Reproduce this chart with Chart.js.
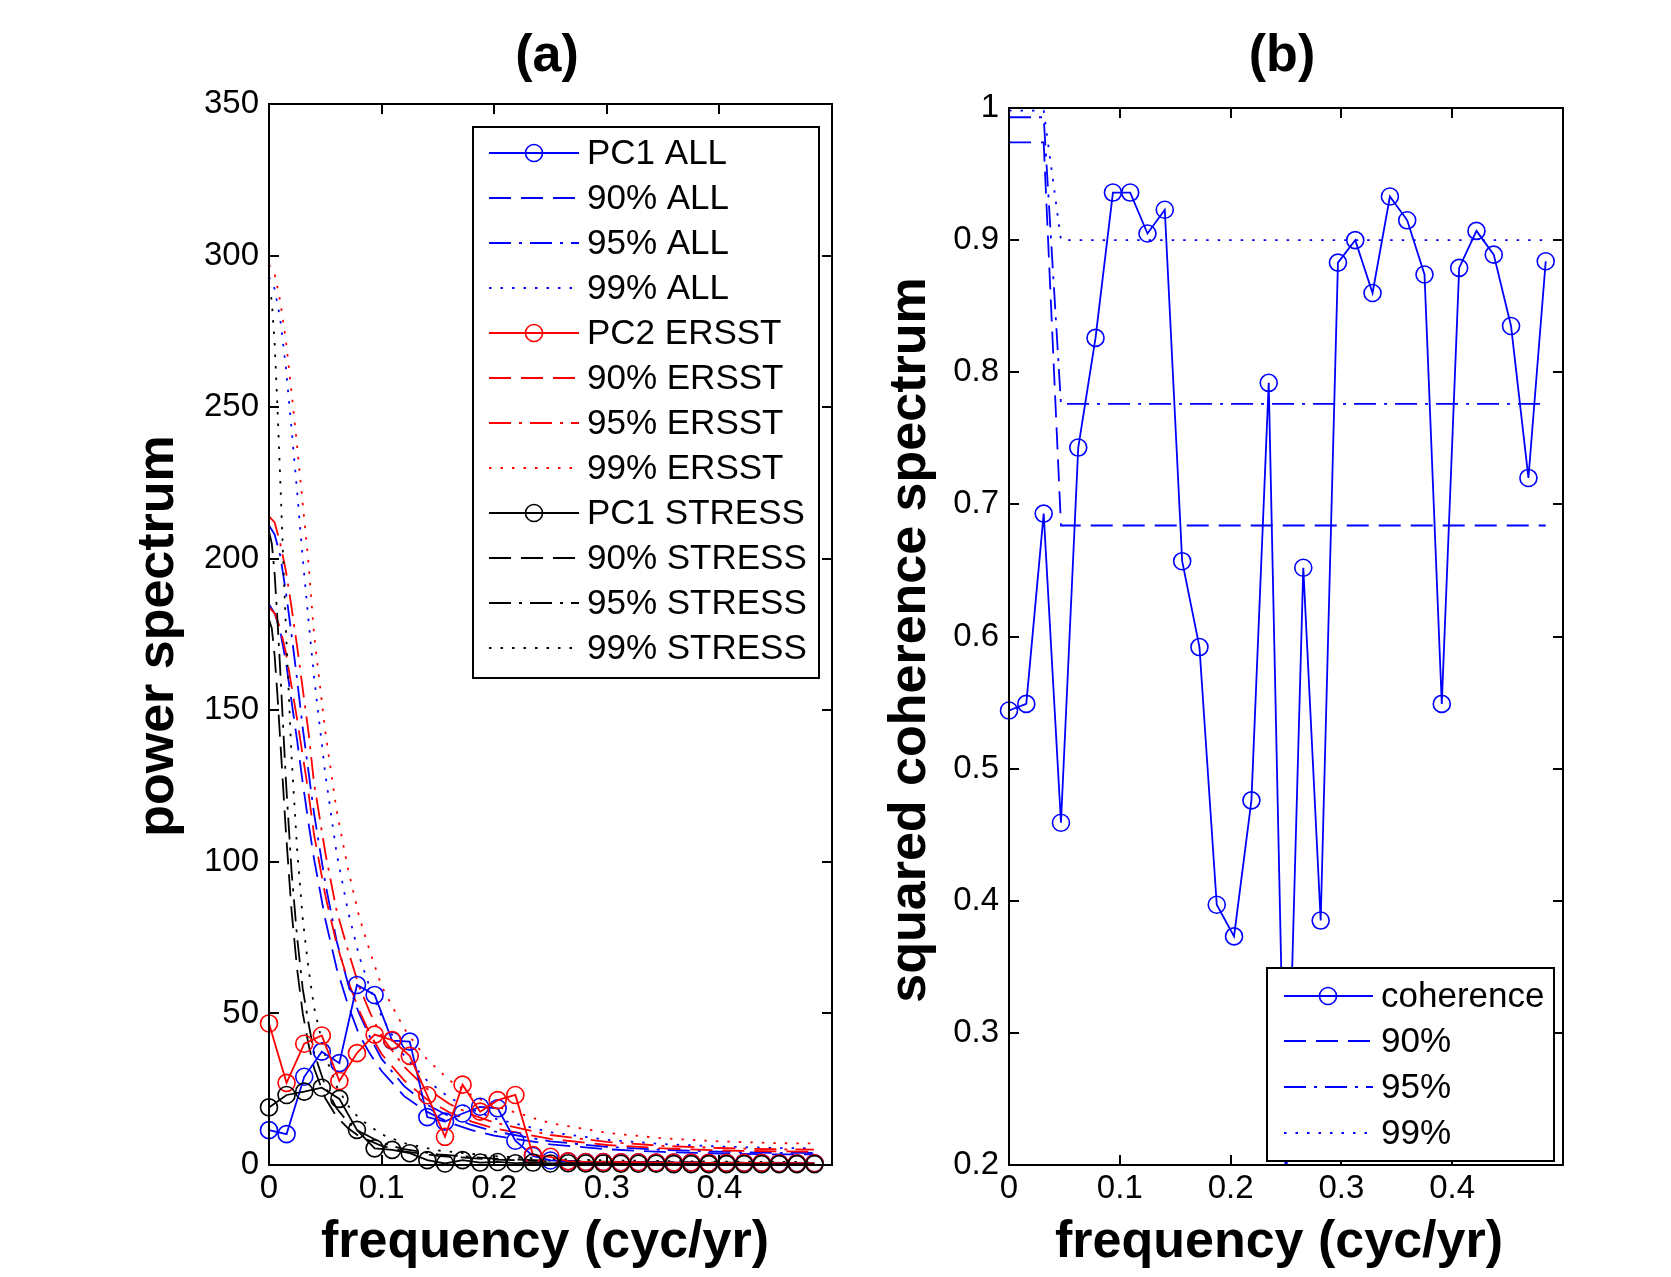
<!DOCTYPE html>
<html>
<head>
<meta charset="utf-8">
<script src="https://cdn.jsdelivr.net/npm/chart.js@4.4.1/dist/chart.umd.min.js"></script>
<style>
  html, body { margin: 0; padding: 0; background: #fff; }
  #wrap { position: relative; width: 1671px; height: 1277px; overflow: hidden; background: #fff; }
  canvas { position: absolute; top: 0; }
  #chartA { left: 0; }
  #chartB { left: 880px; }
</style>
</head>
<body>
<div id="wrap">
  <canvas id="chartA" width="880" height="1277"></canvas>
  <canvas id="chartB" width="791" height="1277"></canvas>
</div>
<script>
// frequencies of the spectral estimates (cyc/yr)
const freq = [0, 0.0156, 0.0313, 0.0469, 0.0625, 0.0781, 0.0938, 0.1094, 0.125, 0.1406, 0.1563, 0.1719,
  0.1875, 0.2031, 0.2188, 0.2344, 0.25, 0.2656, 0.2813, 0.2969, 0.3125, 0.3281, 0.3438, 0.3594,
  0.375, 0.3906, 0.4063, 0.4219, 0.4375, 0.4531, 0.4688, 0.4844];

// panel (a) power spectra
const pc1All = [11.5, 10.2, 29.1, 37.4, 33.6, 59.4, 56.1, 41.0, 40.7, 15.8, 14.3, 17.0, 19.2, 18.7, 8.0, 3.0,
  1.5, 1.2, 1.0, 1.0, 0.9, 0.9, 0.8, 0.8, 0.8, 0.7, 0.7, 0.7, 0.7, 0.6, 0.6, 0.6];
const pc2Ersst = [46.7, 27.1, 40.0, 42.7, 27.7, 36.9, 43.0, 41.2, 36.0, 23.0, 9.3, 26.5, 17.6, 21.4, 23.1, 3.3,
  2.7, 1.2, 1.0, 1.0, 0.9, 0.9, 0.8, 0.8, 0.8, 0.7, 0.7, 0.7, 0.7, 0.6, 0.6, 0.6];
const pc1Stress = [19.0, 23.1, 24.2, 25.5, 21.8, 11.6, 5.5, 5.0, 3.9, 1.6, 0.5, 1.6, 0.8, 1.0, 0.6, 0.8,
  0.5, 0.6, 0.5, 0.5, 0.4, 0.4, 0.4, 0.3, 0.3, 0.3, 0.3, 0.3, 0.3, 0.3, 0.3, 0.3];

// significance levels, ALL and ERSST
const freqLevel = [0, 0.005, 0.01, 0.015, 0.02, 0.025, 0.03, 0.035, 0.04, 0.05, 0.06, 0.07, 0.08, 0.09, 0.1,
  0.12, 0.14, 0.16, 0.18, 0.2, 0.25, 0.3, 0.35, 0.4, 0.45, 0.484];
const all90 = [185, 182, 176, 166, 153, 140, 126, 113, 101, 81, 65, 53, 43, 36.5, 31, 22.7, 17.6, 14.0, 11.5, 9.7, 6.8, 5.2, 4.3, 3.8, 3.5, 3.5];
const all95 = [211, 208, 201, 189, 175, 160, 144, 130, 116, 93, 74, 60, 50, 42, 35, 26, 20, 16.1, 13.2, 11.1, 7.8, 6.0, 5.0, 4.4, 4.0, 4.0];
const all99 = [293, 289, 279, 263, 243, 222, 200, 180, 161, 129, 103, 84, 69, 58, 49, 36, 28, 22.3, 18.3, 15.4, 10.8, 8.3, 6.9, 6.1, 5.6, 5.5];
const ersst90 = [184, 182, 177, 169, 158, 147, 135, 123, 109, 89, 73, 61, 51, 43, 36.6, 27.9, 21.7, 17.4, 14.3, 12.1, 8.6, 6.6, 5.5, 4.8, 4.5, 4.4];
const ersst95 = [214, 212, 205, 196, 184, 171, 157, 143, 126, 103, 84, 71, 59, 50, 42.5, 32.4, 25.2, 20.2, 16.6, 14.0, 9.9, 7.6, 6.3, 5.6, 5.2, 5.1];
const ersst99 = [297, 294, 285, 272, 255, 237, 218, 199, 175, 143, 117, 98, 82, 70, 59, 45, 35, 28, 23, 19.5, 13.8, 10.6, 8.8, 7.8, 7.2, 7.1];

// significance levels, STRESS
const freqLevelStress = [0, 0.0025, 0.005, 0.0075, 0.01, 0.0125, 0.015, 0.02, 0.025, 0.03, 0.035, 0.04, 0.05,
  0.06, 0.07, 0.08, 0.1, 0.12, 0.15, 0.2, 0.25, 0.3, 0.4, 0.484];
const stress90 = [180, 177, 168, 155, 140, 125, 110, 84, 64.5, 50, 40, 32, 22, 16, 12.2, 9.5, 6.3, 4.5, 3.0, 1.8, 1.2, 0.9, 0.7, 0.6];
const stress95 = [209, 205, 195, 180, 163, 145, 127, 97, 75, 58, 47, 37, 26, 18.7, 14.2, 11.1, 7.3, 5.2, 3.5, 2.1, 1.4, 1.1, 0.8, 0.7];
const stress99 = [290, 285, 271, 250, 226, 201, 177, 135, 104, 81, 65, 52, 36, 26, 19.7, 15.4, 10.1, 7.2, 4.8, 2.9, 2.0, 1.5, 1.1, 1.0];

// panel (b) squared coherence and its levels
const coherence = [0.544, 0.549, 0.693, 0.459, 0.743, 0.826, 0.936, 0.936, 0.905, 0.923, 0.657, 0.592,
  0.397, 0.373, 0.476, 0.792, 0.18, 0.652, 0.385, 0.883, 0.900, 0.860, 0.933, 0.915,
  0.874, 0.549, 0.879, 0.907, 0.889, 0.835, 0.720, 0.884];
const coh90 = [0.974, 0.974, 0.974, 0.684, 0.684, 0.684, 0.684, 0.684, 0.684, 0.684, 0.684, 0.684, 0.684, 0.684,
  0.684, 0.684, 0.684, 0.684, 0.684, 0.684, 0.684, 0.684, 0.684, 0.684, 0.684, 0.684, 0.684, 0.684, 0.684, 0.684, 0.684, 0.684];
const coh95 = [0.993, 0.993, 0.993, 0.776, 0.776, 0.776, 0.776, 0.776, 0.776, 0.776, 0.776, 0.776, 0.776, 0.776,
  0.776, 0.776, 0.776, 0.776, 0.776, 0.776, 0.776, 0.776, 0.776, 0.776, 0.776, 0.776, 0.776, 0.776, 0.776, 0.776, 0.776, 0.776];
const coh99 = [0.998, 0.998, 0.998, 0.900, 0.900, 0.900, 0.900, 0.900, 0.900, 0.900, 0.900, 0.900, 0.900, 0.900,
  0.900, 0.900, 0.900, 0.900, 0.900, 0.900, 0.900, 0.900, 0.900, 0.900, 0.900, 0.900, 0.900, 0.900, 0.900, 0.900, 0.900, 0.900];

const xTicks = [0, 0.1, 0.2, 0.3, 0.4];

const FONT = '"Liberation Sans", Arial, Helvetica, sans-serif';
const BLUE = '#0000ff';
const RED = '#ff0000';
const BLACK = '#000000';
const DASH = [22, 10];
const DASHDOT = [22, 8, 3, 8];
const DOT = [2.5, 9];

function pts(xs, ys) {
  return xs.map((x, i) => ({ x, y: ys[i] }));
}

function dataLine(label, ys, color, order) {
  return {
    label, data: pts(freq, ys), borderColor: color, borderWidth: 1.8,
    pointRadius: 8.5, pointBorderWidth: 1.6, pointBorderColor: color,
    pointBackgroundColor: 'rgba(0,0,0,0)', order
  };
}

function levelLine(label, xs, ys, color, dash, order) {
  return {
    label, data: pts(xs, ys), borderColor: color, borderWidth: 1.8,
    borderDash: dash, pointRadius: 0, order
  };
}

// axes box, inward ticks, titles and legend, MATLAB style
const decor = {
  id: 'decor',
  afterDatasetsDraw(chart, args, o) {
    const ctx = chart.ctx;
    const a = chart.chartArea;
    const sx = chart.scales.x, sy = chart.scales.y;
    ctx.save();
    ctx.strokeStyle = BLACK;
    ctx.lineWidth = 2;
    ctx.setLineDash([]);
    ctx.beginPath();
    sx.ticks.forEach(t => {
      const px = Math.round(sx.getPixelForValue(t.value));
      ctx.moveTo(px, a.bottom); ctx.lineTo(px, a.bottom - 10);
      ctx.moveTo(px, a.top); ctx.lineTo(px, a.top + 10);
    });
    sy.ticks.forEach(t => {
      const py = Math.round(sy.getPixelForValue(t.value));
      ctx.moveTo(a.left, py); ctx.lineTo(a.left + 10, py);
      ctx.moveTo(a.right, py); ctx.lineTo(a.right - 10, py);
    });
    ctx.stroke();
    ctx.strokeRect(a.left, a.top, a.right - a.left, a.bottom - a.top);

    // legend
    const L = o.legend;
    ctx.fillStyle = '#fff';
    ctx.fillRect(L.box[0], L.box[1], L.box[2] - L.box[0], L.box[3] - L.box[1]);
    ctx.strokeRect(L.box[0], L.box[1], L.box[2] - L.box[0], L.box[3] - L.box[1]);
    ctx.font = '35px ' + FONT;
    ctx.textAlign = 'left';
    ctx.textBaseline = 'middle';
    L.items.forEach((it, i) => {
      const y = L.rows[i];
      ctx.strokeStyle = it.color;
      ctx.lineWidth = 1.8;
      ctx.setLineDash(it.dash || []);
      ctx.beginPath();
      ctx.moveTo(L.line[0], y); ctx.lineTo(L.line[1], y);
      ctx.stroke();
      ctx.setLineDash([]);
      if (it.marker) {
        ctx.lineWidth = 1.6;
        ctx.beginPath();
        ctx.arc(L.marker, y, 8.5, 0, Math.PI * 2);
        ctx.stroke();
      }
      ctx.fillStyle = BLACK;
      ctx.fillText(it.text, L.text, y + 1);
    });

    // titles
    ctx.fillStyle = BLACK;
    ctx.font = 'bold 52px ' + FONT;
    ctx.textAlign = 'center';
    ctx.textBaseline = 'alphabetic';
    ctx.fillText(o.title, o.titleX, 71);
    ctx.fillText('frequency (cyc/yr)', o.xTitleX, 1257);
    ctx.translate(o.yTitleX, o.yTitleY);
    ctx.rotate(-Math.PI / 2);
    ctx.fillText(o.yTitle, 0, 0);
    ctx.restore();
  }
};

function scalesFor(yMin, yMax, yStep, yWidth) {
  const tickFont = { family: FONT, size: 33 };
  return {
    x: {
      type: 'linear', min: 0, max: 0.5,
      grid: { display: false, drawTicks: false }, border: { display: false },
      afterBuildTicks: s => { s.ticks = xTicks.map(v => ({ value: v })); },
      afterFit: s => { s.height = 112; },
      ticks: { color: BLACK, font: tickFont, padding: 4, maxRotation: 0,
        callback: v => String(+v.toFixed(1)) }
    },
    y: {
      min: yMin, max: yMax,
      grid: { display: false, drawTicks: false }, border: { display: false },
      afterFit: s => { s.width = yWidth; },
      ticks: { color: BLACK, font: tickFont, padding: 10, stepSize: yStep,
        callback: v => String(+v.toFixed(1)) }
    }
  };
}

const baseOpts = {
  responsive: false, animation: false, events: [],
  elements: { line: { tension: 0 } },
  plugins: { legend: { display: false }, tooltip: { enabled: false } }
};

new Chart(document.getElementById('chartA'), {
  type: 'line',
  data: {
    datasets: [
      levelLine('90% ALL', freqLevel, all90, BLUE, DASH, 12),
      levelLine('95% ALL', freqLevel, all95, BLUE, DASHDOT, 11),
      levelLine('99% ALL', freqLevel, all99, BLUE, DOT, 10),
      levelLine('90% ERSST', freqLevel, ersst90, RED, DASH, 9),
      levelLine('95% ERSST', freqLevel, ersst95, RED, DASHDOT, 8),
      levelLine('99% ERSST', freqLevel, ersst99, RED, DOT, 7),
      levelLine('90% STRESS', freqLevelStress, stress90, BLACK, DASH, 6),
      levelLine('95% STRESS', freqLevelStress, stress95, BLACK, DASHDOT, 5),
      levelLine('99% STRESS', freqLevelStress, stress99, BLACK, DOT, 4),
      dataLine('PC1 ALL', pc1All, BLUE, 3),
      dataLine('PC2 ERSST', pc2Ersst, RED, 2),
      dataLine('PC1 STRESS', pc1Stress, BLACK, 1)
    ].map(d => Object.assign(d, { clip: false }))
  },
  options: Object.assign({}, baseOpts, {
    layout: { padding: { left: 0, top: 104, right: 48, bottom: 0 } },
    scales: scalesFor(0, 350, 50, 269),
    plugins: Object.assign({}, baseOpts.plugins, {
      decor: {
        title: '(a)', titleX: 547, xTitleX: 545,
        yTitle: 'power spectrum', yTitleX: 173, yTitleY: 636,
        legend: {
          box: [473, 127, 819, 678], line: [489, 579], marker: 534, text: 587,
          rows: [153, 198, 243, 288, 333, 378, 423, 468, 513, 558, 603, 648],
          items: [
            { text: 'PC1 ALL', color: BLUE, marker: true },
            { text: '90% ALL', color: BLUE, dash: DASH },
            { text: '95% ALL', color: BLUE, dash: DASHDOT },
            { text: '99% ALL', color: BLUE, dash: DOT },
            { text: 'PC2 ERSST', color: RED, marker: true },
            { text: '90% ERSST', color: RED, dash: DASH },
            { text: '95% ERSST', color: RED, dash: DASHDOT },
            { text: '99% ERSST', color: RED, dash: DOT },
            { text: 'PC1 STRESS', color: BLACK, marker: true },
            { text: '90% STRESS', color: BLACK, dash: DASH },
            { text: '95% STRESS', color: BLACK, dash: DASHDOT },
            { text: '99% STRESS', color: BLACK, dash: DOT }
          ]
        }
      }
    })
  }),
  plugins: [decor]
});

const clipB = { left: false, top: false, right: false, bottom: 0 };
new Chart(document.getElementById('chartB'), {
  type: 'line',
  data: {
    datasets: [
      levelLine('90%', freq, coh90, BLUE, DASH, 4),
      levelLine('95%', freq, coh95, BLUE, DASHDOT, 3),
      levelLine('99%', freq, coh99, BLUE, DOT, 2),
      dataLine('coherence', coherence, BLUE, 1)
    ].map(d => Object.assign(d, { clip: clipB }))
  },
  options: Object.assign({}, baseOpts, {
    layout: { padding: { left: 0, top: 108, right: 108, bottom: 0 } },
    scales: scalesFor(0.2, 1, 0.1, 129),
    plugins: Object.assign({}, baseOpts.plugins, {
      decor: {
        title: '(b)', titleX: 1282 - 880, xTitleX: 1279 - 880,
        yTitle: 'squared coherence spectrum', yTitleX: 925 - 880, yTitleY: 640,
        legend: {
          box: [1267 - 880, 968, 1554 - 880, 1161], line: [1284 - 880, 1373 - 880],
          marker: 1328 - 880, text: 1381 - 880,
          rows: [996, 1041, 1087, 1133],
          items: [
            { text: 'coherence', color: BLUE, marker: true },
            { text: '90%', color: BLUE, dash: DASH },
            { text: '95%', color: BLUE, dash: DASHDOT },
            { text: '99%', color: BLUE, dash: DOT }
          ]
        }
      }
    })
  }),
  plugins: [decor]
});
</script>
</body>
</html>
